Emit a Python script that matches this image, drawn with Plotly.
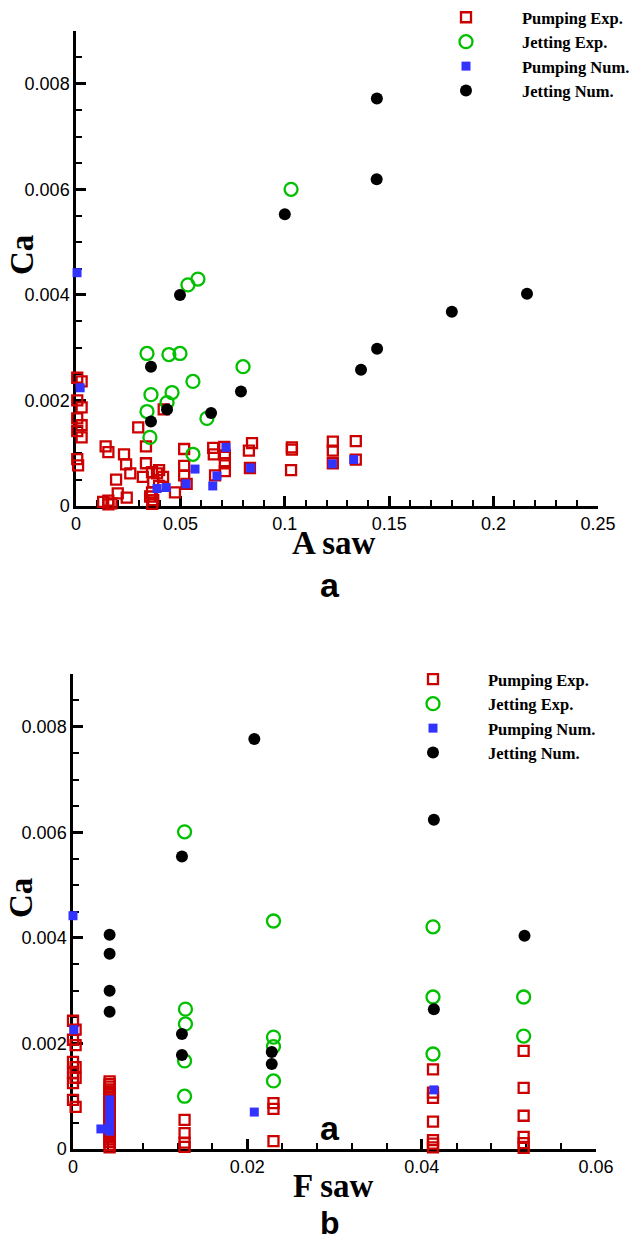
import plotly.graph_objects as go

# ---------------- Panel (a): Ca versus A saw ----------------
pump_exp_A = [0.0006, 0.0027, 0.0006, 0.0027, 0.0006, 0.0027, 0.0006, 0.0027, 0.0006, 0.0010,
              0.0142, 0.0155, 0.0298, 0.0230, 0.0240, 0.0260, 0.0192, 0.0200, 0.0243, 0.0130,
              0.0155, 0.0170, 0.0155,
              0.0335, 0.0335, 0.0320, 0.0364, 0.0370, 0.0364, 0.0370, 0.0388, 0.0398, 0.0417,
              0.0474, 0.0398, 0.0355, 0.0365, 0.0420,
              0.0518, 0.0518, 0.0518, 0.0530,
              0.0657, 0.0660, 0.0666, 0.0710, 0.0713, 0.0713, 0.0713,
              0.0843, 0.0828, 0.0833,
              0.1034, 0.1034, 0.1030,
              0.1230, 0.1230, 0.1230,
              0.1340, 0.1340]
pump_exp_Ca_A = [0.00243, 0.00236, 0.00200, 0.00187, 0.00166, 0.00153, 0.00142, 0.00130, 0.00089, 0.00077,
                 0.00113, 0.00102, 0.00149, 0.00098, 0.00079, 0.00062, 0.00050, 0.00024, 0.00016, 0.00008,
                 0.00010, 0.00005, 0.00003,
                 0.00113, 0.00081, 0.00055, 0.00064, 0.00045, 0.00026, 0.00011, 0.00062, 0.00068, 0.00055,
                 0.00026, 0.00038, 0.00018, 0.00004, 0.00183,
                 0.00108, 0.00076, 0.00058, 0.00042,
                 0.00110, 0.00098, 0.00058, 0.00112, 0.00096, 0.00081, 0.00066,
                 0.00119, 0.00105, 0.00072,
                 0.00111, 0.00107, 0.00068,
                 0.00122, 0.00105, 0.00081,
                 0.00123, 0.00088]

jet_exp_A = [0.1030, 0.0584, 0.0536, 0.0340, 0.0445, 0.0498, 0.0800, 0.0560, 0.0359, 0.0460,
             0.0436, 0.0340, 0.0627, 0.0354, 0.0560]
jet_exp_Ca_A = [0.00600, 0.00430, 0.00419, 0.00289, 0.00287, 0.00289, 0.00264, 0.00236, 0.00211, 0.00215,
                0.00196, 0.00179, 0.00166, 0.00130, 0.00098]

pump_num_A = [0.0005, 0.0020, 0.0388, 0.0432, 0.0527, 0.0570, 0.0655, 0.0675, 0.0718, 0.0836,
              0.1228, 0.1330]
pump_num_Ca_A = [0.00442, 0.00224, 0.00033, 0.00035, 0.00042, 0.00070, 0.00038, 0.00057, 0.00111, 0.00072,
                 0.00080, 0.00088]

jet_num_A = [0.0359, 0.0359, 0.0436, 0.0498, 0.0647, 0.0790, 0.1000, 0.1365, 0.1442, 0.1441,
             0.1440, 0.1800, 0.2160]
jet_num_Ca_A = [0.00264, 0.00160, 0.00183, 0.00400, 0.00176, 0.00217, 0.00553, 0.00258, 0.00298, 0.00772,
                0.00619, 0.00368, 0.00402]

# ---------------- Panel (b): Ca versus F saw ----------------
pump_exp_F = [0.0000, 0.0003, 0.0000, 0.0003, 0.0000, 0.0003, 0.0000, 0.0003, 0.0000, 0.0000, 0.0003,
              0.0042, 0.0042, 0.0042, 0.0042, 0.0042, 0.0042, 0.0042, 0.0042, 0.0042, 0.0042,
              0.0042, 0.0042, 0.0042, 0.0042, 0.0042, 0.0042, 0.0042, 0.0042, 0.0042, 0.0042,
              0.0042, 0.0042, 0.0042, 0.0042, 0.0042, 0.0042,
              0.0128, 0.0128, 0.0128, 0.0128,
              0.0230, 0.0230, 0.0230,
              0.0413, 0.0413, 0.0413, 0.0413, 0.0413, 0.0413, 0.0413,
              0.0517, 0.0517, 0.0517, 0.0517, 0.0517, 0.0517]
pump_exp_Ca_F = [0.00243, 0.00226, 0.00207, 0.00197, 0.00165, 0.00155, 0.00144, 0.00135, 0.00125, 0.00093, 0.00080,
                 0.00128, 0.00123, 0.00118, 0.00113, 0.00108, 0.00103, 0.00098, 0.00093, 0.00088, 0.00083,
                 0.00078, 0.00073, 0.00068, 0.00063, 0.00058, 0.00053, 0.00048, 0.00043, 0.00038, 0.00033,
                 0.00028, 0.00023, 0.00018, 0.00013, 0.00008, 0.00003,
                 0.00055, 0.00030, 0.00012, 0.00004,
                 0.00087, 0.00076, 0.00015,
                 0.00151, 0.00107, 0.00097, 0.00052, 0.00017, 0.00010, 0.00003,
                 0.00186, 0.00116, 0.00063, 0.00023, 0.00011, 0.00002]

jet_exp_F = [0.0128, 0.0230, 0.0413, 0.0129, 0.0129, 0.0128, 0.0128, 0.0230, 0.0230, 0.0230,
             0.0413, 0.0413, 0.0517, 0.0517]
jet_exp_Ca_F = [0.00601, 0.00432, 0.00421, 0.00265, 0.00237, 0.00167, 0.00100, 0.00212, 0.00194, 0.00129,
                0.00288, 0.00180, 0.00288, 0.00214]

pump_num_F = [0.0000, 0.0001, 0.0032, 0.0042, 0.0042, 0.0042, 0.0042, 0.0042, 0.0042, 0.0042,
              0.0208, 0.0414]
pump_num_Ca_F = [0.00442, 0.00226, 0.00038, 0.00093, 0.00083, 0.00073, 0.00063, 0.00053, 0.00043, 0.00034,
                 0.00070, 0.00112]

jet_num_F = [0.0042, 0.0042, 0.0042, 0.0042, 0.0125, 0.0125, 0.0125, 0.0208, 0.0228, 0.0228,
             0.0414, 0.0414, 0.0518]
jet_num_Ca_F = [0.00406, 0.00370, 0.00300, 0.00260, 0.00554, 0.00218, 0.00178, 0.00777, 0.00184, 0.00161,
                0.00624, 0.00265, 0.00404]

series_names = ["Pumping Exp.", "Jetting Exp.", "Pumping Num.", "Jetting Num."]

RED = "#cc0000"
GREEN = "#00c000"
BLUE = "#3333ff"
BLACK = "#000000"

styles = [
    dict(symbol="square-open", size=10, color=RED, line=dict(color=RED, width=2.3)),
    dict(symbol="circle-open", size=13, color=GREEN, line=dict(color=GREEN, width=2.3)),
    dict(symbol="square", size=9, color=BLUE, line=dict(width=0)),
    dict(symbol="circle", size=12, color=BLACK, line=dict(width=0)),
]

W, H = 643, 1243

fig = go.Figure()

panel_a = [(pump_exp_A, pump_exp_Ca_A), (jet_exp_A, jet_exp_Ca_A),
           (pump_num_A, pump_num_Ca_A), (jet_num_A, jet_num_Ca_A)]
panel_b = [(pump_exp_F, pump_exp_Ca_F), (jet_exp_F, jet_exp_Ca_F),
           (pump_num_F, pump_num_Ca_F), (jet_num_F, jet_num_Ca_F)]

for name, st, (xs, ys) in zip(series_names, styles, panel_a):
    fig.add_trace(go.Scatter(x=xs, y=ys, mode="markers", name=f"<b>{name}</b>", marker=st,
                             xaxis="x", yaxis="y", legend="legend", cliponaxis=False))
for name, st, (xs, ys) in zip(series_names, styles, panel_b):
    fig.add_trace(go.Scatter(x=xs, y=ys, mode="markers", name=f"<b>{name}</b>", marker=st,
                             xaxis="x2", yaxis="y2", legend="legend2", cliponaxis=False))

tick_font = dict(family="Liberation Sans, Arial, sans-serif", size=18, color="black")


def axis_style(rng, dtick, minor_dtick, domain, anchor):
    return dict(
        range=rng, dtick=dtick, tick0=0, domain=domain, anchor=anchor,
        showline=True, linecolor="black", linewidth=2.5,
        ticks="inside", ticklen=10, tickwidth=2.5, tickcolor="black",
        minor=dict(dtick=minor_dtick, tick0=0, ticks="inside", ticklen=6, tickwidth=1.5,
                   tickcolor="black", showgrid=False),
        showgrid=False, zeroline=False, mirror=False, automargin=False,
        tickfont=tick_font, exponentformat="none", layer="below traces",
    )


legend_font = dict(family="Liberation Serif, Times New Roman, serif", size=16.5, color="black")

fig.update_layout(
    width=W, height=H,
    margin=dict(l=0, r=0, t=0, b=0),
    paper_bgcolor="white", plot_bgcolor="white",
    xaxis=axis_style([0, 0.25], 0.05, 0.01, [76 / W, 598 / W], "y"),
    yaxis=axis_style([0, 0.009], 0.002, 0.0005, [1 - 506 / H, 1 - 31 / H], "x"),
    xaxis2=axis_style([0, 0.06], 0.02, 0.004, [73 / W, 596 / W], "y2"),
    yaxis2=axis_style([0, 0.009], 0.002, 0.0005, [1 - 1149 / H, 1 - 674 / H], "x2"),
    legend=dict(x=410 / W, y=1, xanchor="left", yanchor="top",
                bgcolor="rgba(0,0,0,0)", itemwidth=102, tracegroupgap=0, font=legend_font),
    legend2=dict(x=378 / W, y=1 - 662 / H, xanchor="left", yanchor="top",
                 bgcolor="rgba(0,0,0,0)", itemwidth=100, tracegroupgap=0, font=legend_font),
    showlegend=True,
)

serif_bold = dict(family="Liberation Serif, Times New Roman, serif", size=33, color="black")
sans_bold = dict(family="Liberation Sans, Arial, sans-serif", size=34, color="black")


def note(text, px, py, font, angle=0, yanchor="middle"):
    fig.add_annotation(text=text, xref="paper", yref="paper", x=px / W, y=1 - py / H,
                       xanchor="center", yanchor=yanchor, showarrow=False, font=font,
                       textangle=angle)


note("<b>A saw</b>", 334, 543, serif_bold)
note("<b>Ca</b>", 22, 255, serif_bold, -90)
note("<b>a</b>", 330, 585, sans_bold)
note("<b>F saw</b>", 333, 1186, serif_bold)
note("<b>Ca</b>", 21, 898, serif_bold, -90)
note("<b>a</b>", 330, 1128, sans_bold)
note("<b>b</b>", 330, H, dict(sans_bold, size=32), yanchor="bottom")

fig.write_html("out.html")
